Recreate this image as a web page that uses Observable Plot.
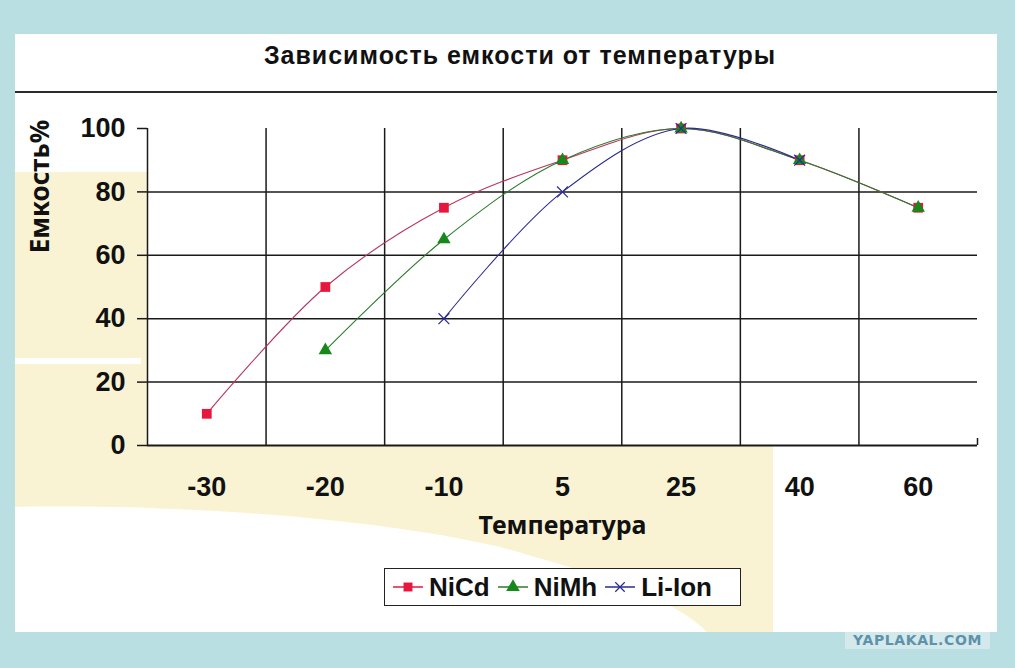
<!DOCTYPE html>
<html>
<head>
<meta charset="utf-8">
<script src="https://cdn.jsdelivr.net/npm/d3@7"></script>
<script src="https://cdn.jsdelivr.net/npm/@observablehq/plot@0.6"></script>
<style>
  html, body { margin: 0; padding: 0; }
  body { width: 1015px; height: 668px; background: #b9dfe2; position: relative; overflow: hidden; font-family: "Liberation Sans", Arial, sans-serif; }
  #panel { position: absolute; left: 15px; top: 34px; width: 982px; height: 598px; background: #ffffff; overflow: hidden; }
  #deco { position: absolute; left: 0; top: 0; }
  #title { position: absolute; left: 0; top: 0; width: 954px; padding-left: 28px; height: 57px; border-bottom: 2px solid #2a2a2a; text-align: center; font-weight: bold; font-size: 25px; line-height: 42px; color: #111; letter-spacing: 1px; }
  #chart { position: absolute; left: 0; top: 58px; }
  #legend { position: absolute; left: 369px; top: 534px; width: 355px; height: 36px; border: 1.5px solid #222; background: #fff; display: flex; align-items: center; font-weight: bold; font-size: 26px; color: #111; }
  #legend .item { display: flex; align-items: center; margin-left: 7px; }
  #legend svg { margin-right: 5px; }
  #wm { position: absolute; left: 845px; top: 632px; width: 145px; height: 17px; background: #d3e9eb; color: #5e91aa; font-family: "DejaVu Sans", sans-serif; font-weight: bold; font-size: 14px; line-height: 17px; text-align: center; letter-spacing: 0.6px; }
</style>
</head>
<body>
<div id="panel">
  <svg id="deco" width="982" height="598">
    <path d="M0,138 L132,138 L132,411 L758,411 L758,598 L692,598 C660,566 600,545 485,513 C350,482 150,470 0,473 Z" fill="#faf3d3"/>
    <rect x="0" y="324" width="126" height="6" fill="#ffffff"/>
  </svg>
  <div id="title">Зависимость емкости от температуры</div>
  <div id="chart"></div>
  <div id="legend"></div>
</div>
<div id="wm">YAPLAKAL.COM</div>
<script>
// ---- data ----
const temps = ["-30", "-20", "-10", "5", "25", "40", "60"];
const nicd  = [10, 50, 75, 90, 100, 90, 75];
const nimh  = [null, 30, 65, 90, 100, 90, 75];
const liion = [null, null, 40, 80, 100, 90, null];
const yTicks = [0, 20, 40, 60, 80, 100];
const seriesNames = ["NiCd", "NiMh", "Li-Ion"];

const colors = {
  NiCd:  {line: "#b8365e", mark: "#e8163c"},
  NiMh:  {line: "#2c7a2c", mark: "#17881a"},
  "Li-Ion": {line: "#2a2a90", mark: "#2a2a9c"}
};

function rows(name, vals) {
  return vals.map((v, i) => ({series: name, i, t: temps[i], v})).filter(d => d.v != null);
}
const dNiCd = rows("NiCd", nicd);
const dNiMh = rows("NiMh", nimh);
const dLi = rows("Li-Ion", liion);

const idx = temps.map((_, i) => i);
const bounds = temps.slice(1).map((_, i) => i + 0.5);

const tickFont = "'Liberation Sans', sans-serif";

const chart = Plot.plot({
  width: 982,
  height: 460,
  marginLeft: 132,
  marginRight: 20,
  marginTop: 36,
  marginBottom: 107,
  style: {background: "transparent", overflow: "visible", color: "#111"},
  x: {type: "linear", domain: [-0.5, temps.length - 0.5]},
  y: {domain: [0, 100]},
  marks: [
    Plot.frame({fill: "white", stroke: "none"}),
    Plot.ruleY(yTicks.filter(t => t > 0 && t < 100), {stroke: "#1a1a1a", strokeWidth: 1.5}),
    Plot.ruleX(bounds, {y1: 0, y2: 100, stroke: "#1a1a1a", strokeWidth: 1.5}),
    Plot.ruleX([-0.5], {y1: 0, y2: 100, stroke: "#1a1a1a", strokeWidth: 1.5}),
    Plot.ruleX([temps.length - 0.5], {y1: 0, y2: 2.2, stroke: "#1a1a1a", strokeWidth: 1.5}),
    Plot.ruleY([0], {stroke: "#1a1a1a", strokeWidth: 2}),
    Plot.axisY({ticks: yTicks, tickSize: 10, tickPadding: 12, label: null, fontSize: 27, fontWeight: "bold", fontFamily: tickFont, stroke: "#1a1a1a", strokeWidth: 1.5}),
    Plot.axisX({ticks: idx, tickFormat: i => temps[i], tickSize: 0, tickPadding: 31, label: null, fontSize: 27, fontWeight: "bold", fontFamily: tickFont}),
    Plot.text(["Температура"], {frameAnchor: "bottom", dy: 88, fontSize: 25, fontWeight: "bold", fill: "#111"}),
    Plot.text(["Емкость%"], {frameAnchor: "top-left", dx: -117, dy: 58, rotate: -90, fontSize: 26, fontWeight: "bold", fill: "#111", textAnchor: "middle"}),
    Plot.line(dNiCd, {x: "i", y: "v", curve: "catmull-rom", stroke: colors.NiCd.line, strokeWidth: 1.1}),
    Plot.line(dNiMh, {x: "i", y: "v", curve: "catmull-rom", stroke: colors.NiMh.line, strokeWidth: 1.1}),
    Plot.line(dLi, {x: "i", y: "v", curve: "catmull-rom", stroke: colors["Li-Ion"].line, strokeWidth: 1.1}),
    Plot.dot(dNiCd, {x: "i", y: "v", symbol: "square", r: 5.5, fill: colors.NiCd.mark, stroke: "none"}),
    Plot.dot(dNiMh, {x: "i", y: "v", symbol: "triangle", r: 5, fill: colors.NiMh.mark, stroke: "none"}),
    Plot.dot(dLi, {x: "i", y: "v", symbol: "times", r: 5, stroke: colors["Li-Ion"].mark, strokeWidth: 1.2, fill: "none"})
  ]
});
document.getElementById("chart").appendChild(chart);

// ---- legend ----
const legend = d3.select("#legend");
const sym = {NiCd: d3.symbolSquare, NiMh: d3.symbolTriangle, "Li-Ion": d3.symbolTimes};
seriesNames.forEach(name => {
  const it = legend.append("div").attr("class", "item");
  const s = it.append("svg").attr("width", 32).attr("height", 16);
  s.append("line").attr("x1", 1).attr("x2", 31).attr("y1", 8).attr("y2", 8)
    .attr("stroke", name === "NiCd" ? "#e8163c" : colors[name].line).attr("stroke-width", 1.5);
  const p = d3.symbol(sym[name], name === "Li-Ion" ? 60 : 80)();
  const g = s.append("path").attr("d", p).attr("transform", "translate(16,8)");
  if (name === "Li-Ion") g.attr("fill", "none").attr("stroke", colors[name].mark).attr("stroke-width", 1.2);
  else g.attr("fill", colors[name].mark);
  it.append("span").text(name);
});
</script>
</body>
</html>
